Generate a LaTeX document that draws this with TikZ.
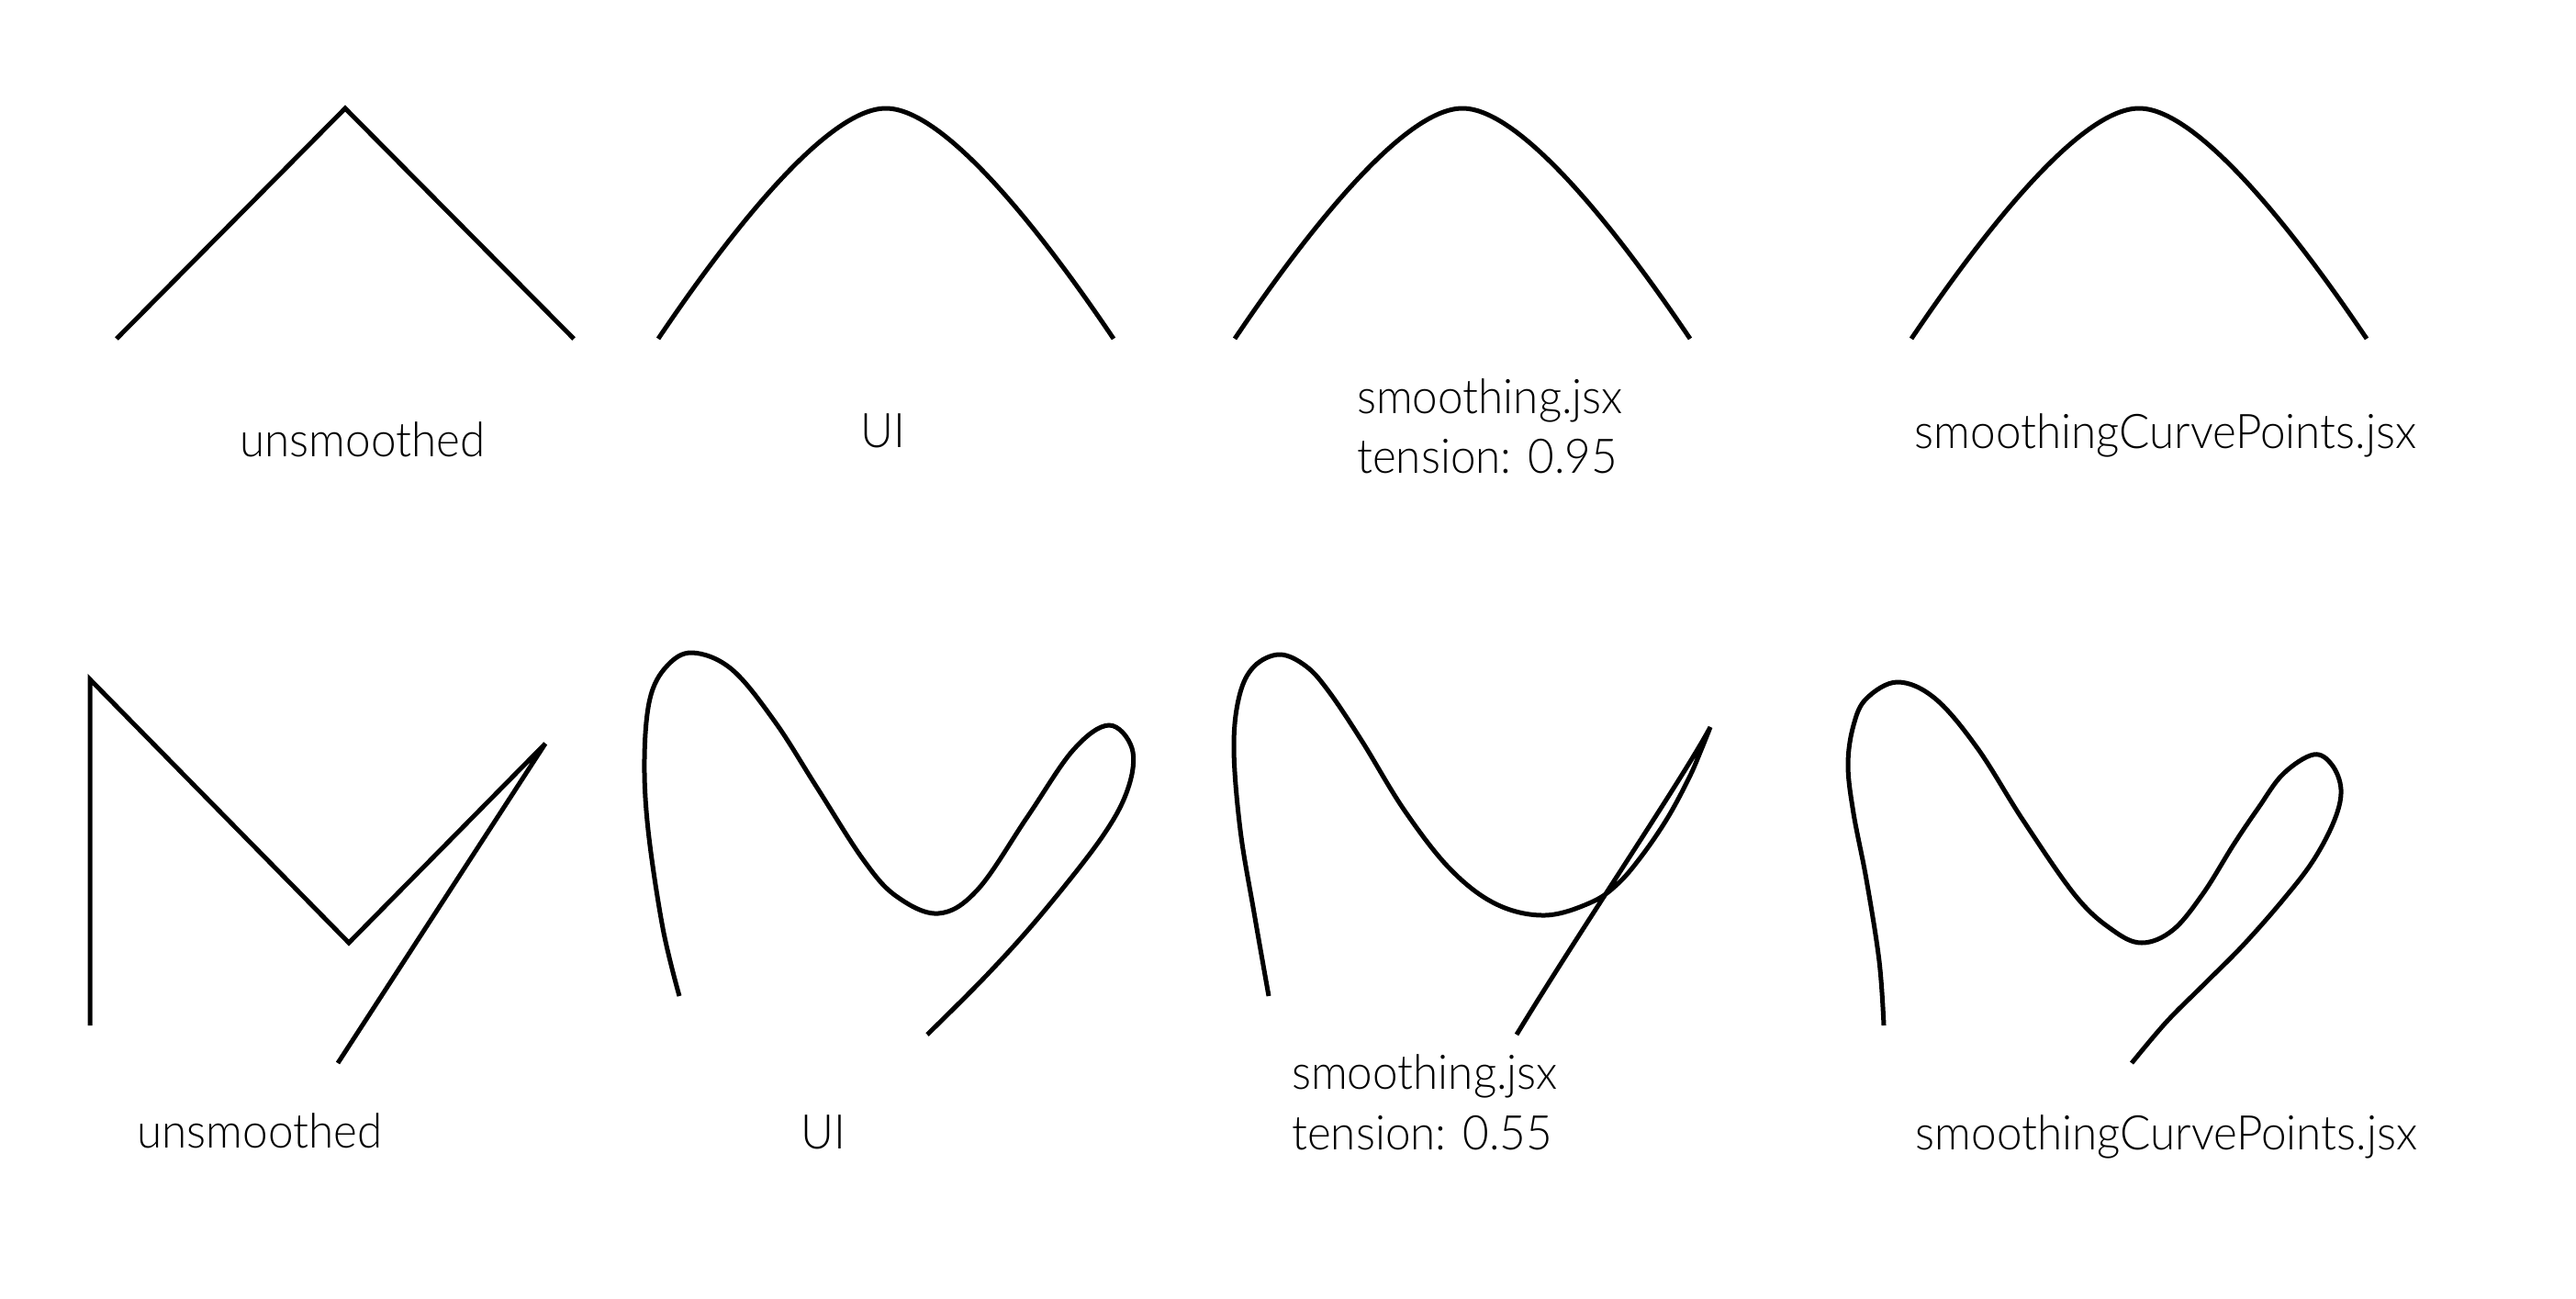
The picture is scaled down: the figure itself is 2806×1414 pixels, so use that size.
\documentclass[tikz,border=0pt]{standalone}
\usepackage{fontspec}
\setmainfont{Lato Light}[FakeStretch=0.95]
\usetikzlibrary{positioning}

\begin{document}
\begin{tikzpicture}[x=1pt,y=-1pt,
    curve/.style={line width=5pt,black,miter limit=4},
    lbl/.style={font=\fontsize{52}{66}\selectfont,inner sep=0pt}]
  \fill[white] (0,0) rectangle (2806,1414);
  \useasboundingbox (0,0) rectangle (2806,1414);
  % top row: a single peak
  \draw[curve] (127,369) -- (376,118) -- (625,369);
  \foreach \x in {717,1345,2082} {
    \draw[curve] (\x,369) .. controls (\x+72,262) and (\x+182,118) .. (\x+248,118)
      .. controls (\x+314,118) and (\x+424,262) .. (\x+496,369);
  }
  \node[lbl,anchor=base] (rawtop) at (395,497) {unsmoothed};
  \node[lbl,anchor=base] (uitop) at (962,487) {UI};
  \node[lbl,anchor=base west] (jsxtop) at (1478,450) {smoothing.jsx};
  \node[lbl,anchor=base west] (tentop) at ([yshift=-65pt]jsxtop.base west) {tension: 0.95};
  \node[lbl,anchor=base] (cpttop) at (2359,488) {smoothingCurvePoints.jsx};

  % bottom row: five points with a hairpin
  \draw[curve] (98,1117) -- (98,740) -- (380,1027) -- (594,810) -- (368,1158);
  \draw[curve] plot[smooth,tension=0.6] coordinates {(740,1085) (722,1011) (706,904)
    (702,826) (708,761) (726,726) (754,711) (797,729) (844,786) (890,858) (940,936)
    (976,976) (1022,995) (1065,969) (1119,890) (1169,817) (1208,790) (1233,815)
    (1229,858) (1201,911) (1136,994) (1076,1061) (1010,1127)};
  \draw[curve] plot[smooth,tension=0.6] coordinates {(1382,1085) (1366,994) (1351,904)
    (1344,815) (1350,758) (1366,726) (1394,713) (1423,726) (1448,754) (1484,808)
    (1530,883) (1580,947) (1630,985) (1683,997) (1733,983) (1763,962) (1790,930)
    (1817,890) (1840,847) (1853,817) (1863,792)}
    .. controls (1835,845) and (1720,1015) .. (1652,1127);
  \draw[curve] plot[smooth,tension=0.6] coordinates {(2052,1117) (2047,1047) (2033,958)
    (2019,886) (2013,833) (2019,790) (2033,761) (2067,743) (2108,761) (2154,815)
    (2204,894) (2261,976) (2301,1013) (2333,1027) (2367,1013) (2400,973) (2433,920)
    (2460,880) (2487,843) (2520,822) (2540,833) (2550,860) (2543,893) (2520,937)
    (2487,980) (2443,1030) (2400,1073) (2360,1113) (2322,1158)};
  \node[lbl,anchor=base] (rawbot) at (283,1250) {unsmoothed};
  \node[lbl,anchor=base] (uibot) at (897,1251) {UI};
  \node[lbl,anchor=base west] (jsxbot) at (1407,1186) {smoothing.jsx};
  \node[lbl,anchor=base west] (tenbot) at ([yshift=-66pt]jsxbot.base west) {tension: 0.55};
  \node[lbl,anchor=base] (cptbot) at (2360,1252) {smoothingCurvePoints.jsx};
\end{tikzpicture}
\end{document}
